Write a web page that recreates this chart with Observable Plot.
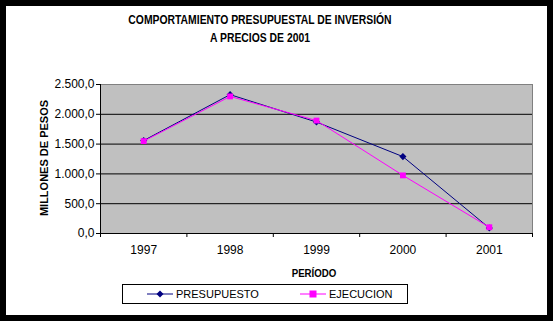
<!DOCTYPE html>
<html><head><meta charset="utf-8">
<script src="https://cdn.jsdelivr.net/npm/d3@7"></script>
<script src="https://cdn.jsdelivr.net/npm/@observablehq/plot@0.6"></script>
<style>
html,body{margin:0;padding:0;background:#000;}
#wrap{position:relative;width:553px;height:321px;background:#000;overflow:hidden;font-family:"Liberation Sans",Arial,sans-serif;}
#inner{position:absolute;left:6px;top:6px;width:541px;height:309px;background:#fff;}
#chart{position:absolute;left:0;top:0;}
.title{position:absolute;left:0;width:520px;text-align:center;font-weight:bold;font-size:12.5px;color:#000;transform:scaleX(0.83);transform-origin:260px 0;}
#ylab{position:absolute;left:44px;top:158px;transform:translate(-50%,-50%) rotate(-90deg);font-weight:bold;font-size:11px;white-space:nowrap;}
#xlab{position:absolute;left:314px;top:273px;transform:translate(-50%,-50%) scaleX(0.88);font-weight:bold;font-size:11px;}
#legend{position:absolute;left:122px;top:284px;width:284px;height:18px;border:1px solid #000;background:#fff;font-size:11px;}
.li{position:absolute;top:0;height:18px;display:flex;align-items:center;}
.li svg{margin-right:3px;}
</style></head>
<body>
<div id="wrap"><div id="inner"></div><div id="chart"></div>
<div class="title" style="top:13px">COMPORTAMIENTO PRESUPUESTAL DE INVERSIÓN</div>
<div class="title" style="top:31px">A PRECIOS DE 2001</div>
<div id="ylab">MILLONES DE PESOS</div>
<div id="xlab">PERÍODO</div>
<div id="legend"></div>
</div>
<script>
const years = [1997, 1998, 1999, 2000, 2001];
const presupuesto = [1560, 2330, 1870, 1290, 92];
const ejecucion = [1550, 2300, 1895, 975, 105];
const yTicks = [0, 500, 1000, 1500, 2000, 2500];
const seriesNames = ["PRESUPUESTO", "EJECUCION"];
const seriesColors = ["#000080", "#FF00FF"];

const esFmt = d3.formatLocale({decimal: ",", thousands: ".", grouping: [3], currency: ["$", ""]}).format(",.1f");
const data = years.flatMap((y, i) => [
  {year: y, value: presupuesto[i], serie: seriesNames[0]},
  {year: y, value: ejecucion[i], serie: seriesNames[1]}
]);
const bounds = [...years.map(y => y - 0.5), years[years.length - 1] + 0.5];

const chart = Plot.plot({
  width: 553, height: 321,
  marginLeft: 100, marginRight: 21, marginTop: 84, marginBottom: 88,
  style: {background: "transparent", fontFamily: "Liberation Sans, Arial, sans-serif", color: "#000"},
  x: {domain: [bounds[0], bounds[bounds.length - 1]]},
  y: {domain: [0, 2500]},
  marks: [
    Plot.frame({fill: "#c0c0c0", stroke: "#808080"}),
    Plot.ruleY(yTicks.slice(1, -1), {stroke: "#000", strokeWidth: 1}),
    Plot.ruleY([0], {stroke: "#000"}),
    Plot.ruleX([bounds[0]], {stroke: "#000"}),
    Plot.axisY({ticks: yTicks, tickFormat: esFmt, tickSize: 4, tickPadding: 2, fontSize: 12, label: null}),
    Plot.axisX({ticks: bounds, tickSize: 4, text: null, label: null}),
    Plot.axisX({ticks: years, tickFormat: d => String(d), tickSize: 0, tickPadding: 12, fontSize: 12, label: null}),
    Plot.line(data.filter(d => d.serie === seriesNames[0]), {x: "year", y: "value", stroke: seriesColors[0], strokeWidth: 1}),
    Plot.dot(data.filter(d => d.serie === seriesNames[0]), {x: "year", y: "value", symbol: "diamond2", r: 3.2, fill: seriesColors[0], stroke: "none"}),
    Plot.line(data.filter(d => d.serie === seriesNames[1]), {x: "year", y: "value", stroke: seriesColors[1], strokeWidth: 1}),
    Plot.dot(data.filter(d => d.serie === seriesNames[1]), {x: "year", y: "value", symbol: "square", r: 3.3, fill: seriesColors[1], stroke: "none"})
  ]
});
document.getElementById("chart").appendChild(chart);

const legend = document.getElementById("legend");
const lx = [24, 177];
const symbols = [
  c => `<polygon points="13,0.5 16.5,4 13,7.5 9.5,4" fill="${c}"/>`,
  c => `<rect x="9.5" y="0.5" width="7" height="7" fill="${c}"/>`
];
seriesNames.forEach((n, i) => {
  const d = document.createElement("div");
  d.className = "li";
  d.style.left = lx[i] + "px";
  d.innerHTML = `<svg width="26" height="8"><line x1="0" x2="26" y1="4" y2="4" stroke="${seriesColors[i]}"/>${symbols[i](seriesColors[i])}</svg><span>${n}</span>`;
  legend.appendChild(d);
});
</script>
</body></html>
